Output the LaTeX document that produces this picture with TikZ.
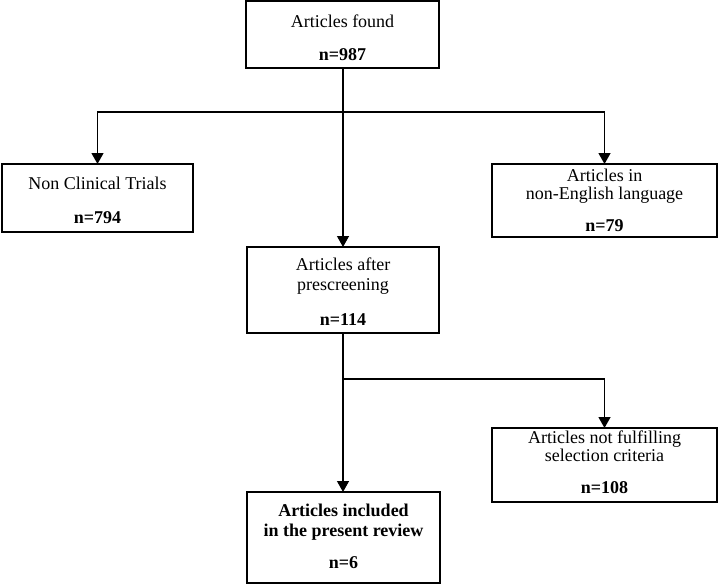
\documentclass[tikz,border=0pt]{standalone}
\usepackage{fontspec}
\setmainfont{Liberation Serif}
\usetikzlibrary{arrows.meta}
\begin{document}
\begin{tikzpicture}[x=1pt,y=-1pt,
  box/.style={draw=black,line width=2pt,inner sep=0pt,outer sep=0pt},
  txt/.style={anchor=base,inner sep=0pt,align=center,font=\fontsize{18}{16}\selectfont},
  txtb/.style={anchor=base,inner sep=0pt,align=center,font=\fontsize{18}{20}\selectfont},
  btxt/.style={anchor=base,inner sep=0pt,align=center,font=\fontsize{18}{20}\selectfont\bfseries},
  conn/.style={line width=1.3pt,draw=black},
  arr/.style={conn,-{Triangle[width=12pt,length=11pt]}}]
\useasboundingbox (0,0) rectangle (720,586);
% boxes
\node[box,minimum width=193pt,minimum height=67pt] (found) at (342.5,34.5) {};
\node[box,minimum width=191pt,minimum height=68pt] (nct) at (97.5,198) {};
\node[box,minimum width=225pt,minimum height=73pt] (nonen) at (604.5,200.5) {};
\node[box,minimum width=192pt,minimum height=86pt] (after) at (343,290) {};
\node[box,minimum width=225pt,minimum height=74pt] (notful) at (604.5,465) {};
\node[box,minimum width=193pt,minimum height=91pt] (incl) at (343.5,537.5) {};
% texts (multi-line nodes: base = last line's baseline)
\node[txt] (t1) at (342.5,28) {Articles found};
\node[btxt] (n1) at (342.5,61) {n=987};
\node[txt] (t2) at (97.5,189) {Non Clinical Trials};
\node[btxt] (n2) at (97.5,223) {n=794};
\node[txt,font=\fontsize{18}{18}\selectfont] (t3) at (604.5,199) {Articles in\\non-English language};
\node[btxt] (n3) at (604.5,231) {n=79};
\node[txtb] (t4) at (343,290) {Articles after\\prescreening};
\node[btxt] (n4) at (343,325) {n=114};
\node[txt] (t5) at (604.5,461) {Articles not fulfilling\\selection criteria};
\node[btxt] (n5) at (604.5,493) {n=108};
\node[btxt] (t6) at (343.5,536) {Articles included\\in the present review};
\node[btxt] (n6) at (343.5,568) {n=6};
% connectors
\coordinate (j1) at (343,112);
\coordinate (j2) at (343,379);
\draw[arr] (found.south -| j1) -- (after.north -| j1);
\draw[arr] (j1) -| (nct.north);
\draw[arr] (j1) -| (nonen.north);
\draw[arr] (after.south -| j2) -- (incl.north -| j2);
\draw[arr] (j2) -| (notful.north);
\end{tikzpicture}
\end{document}
